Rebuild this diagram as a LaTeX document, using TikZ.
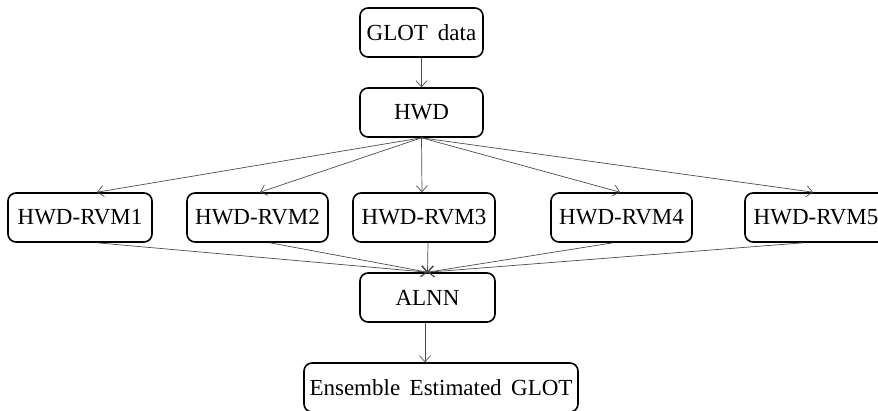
\documentclass[tikz,border=0pt]{standalone}
\usepackage{fontspec}
\setmainfont{Liberation Serif}
\usetikzlibrary{arrows.meta}
\tikzset{
  box/.style={draw=black, line width=1.6pt, rounded corners=8pt, minimum height=49pt, inner sep=0pt, font=\fontsize{23}{26}\selectfont},
  conn/.style={draw=black!70, line width=0.7pt, -{Straight Barb[length=6pt,width=11pt]}}
}
\begin{document}
\begin{tikzpicture}[x=1pt,y=-1pt]
\useasboundingbox (0,0) rectangle (878,410);
\node[box, minimum width=123pt] (glot) at (421.5,32.5) {GLOT\hspace{10pt}data};
\node[box, minimum width=123pt] (hwd) at (421.5,112.5) {HWD};
\node[box, minimum width=144pt] (r1) at (80,217.5) {HWD-RVM1};
\node[box, minimum width=141pt] (r2) at (257.5,217.5) {HWD-RVM2};
\node[box, minimum width=142pt] (r3) at (424,217.5) {HWD-RVM3};
\node[box, minimum width=141pt] (r4) at (621.5,217.5) {HWD-RVM4};
\node[box, minimum width=142pt] (r5) at (816,217.5) {HWD-RVM5};
\node[box, minimum width=135pt] (alnn) at (427.5,297.5) {ALNN};
\node[box, minimum width=274pt] (ens) at (441,387.5) {Ensemble\hspace{9.5pt}Estimated\hspace{9.5pt}GLOT};
\draw[conn] (glot.south) -- (hwd.north);
\draw[conn] (hwd.south) -- ([xshift=17pt]r1.north);
\draw[conn] (hwd.south) -- ([xshift=2.5pt]r2.north);
\draw[conn] (hwd.south) -- ([xshift=-2pt]r3.north);
\draw[conn] (hwd.south) -- ([xshift=-1.5pt]r4.north);
\draw[conn] (hwd.south) -- ([xshift=-3pt]r5.north);
\draw[conn] ([xshift=17pt]r1.south) -- (alnn.north);
\draw[conn] ([xshift=12.5pt]r2.south) -- (alnn.north);
\draw[conn] ([xshift=4pt]r3.south) -- (alnn.north);
\draw[conn] ([xshift=-8.5pt]r4.south) -- (alnn.north);
\draw[conn] ([xshift=-13pt]r5.south) -- (alnn.north);
\draw[conn] ([xshift=-2.5pt]alnn.south) -- ([xshift=-16pt]ens.north);
\end{tikzpicture}
\end{document}
